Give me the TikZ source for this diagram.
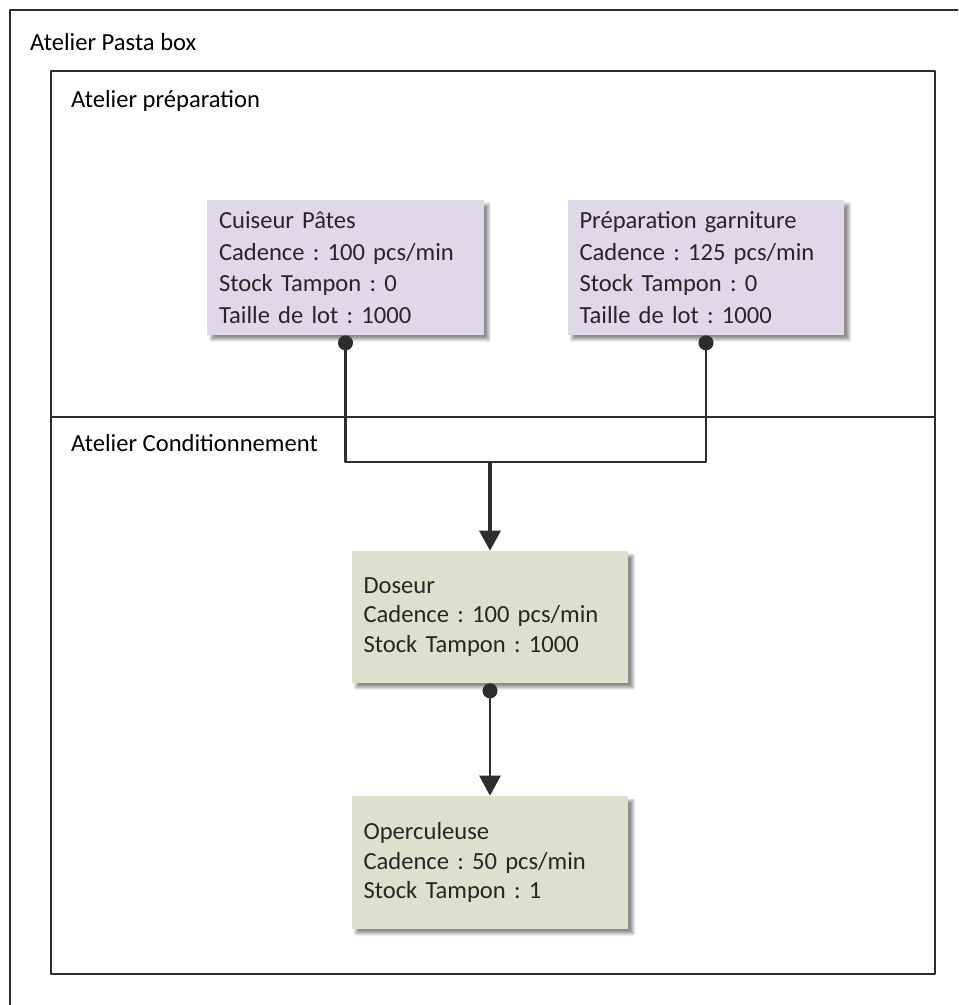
\documentclass[tikz,border=0pt]{standalone}
\usepackage{fontspec}
\setmainfont{Carlito}
\usetikzlibrary{arrows.meta,shadows.blur,positioning}
\definecolor{lavande}{RGB}{223,216,232}
\definecolor{sauge}{RGB}{221,224,205}
\definecolor{trait}{RGB}{45,45,45}
\frenchspacing

\begin{document}
\begin{tikzpicture}[x=0.02cm,y=-0.02cm, font=\fontsize{14}{18}\selectfont, line join=round, >={Triangle[width=0.42cm,length=0.4cm]},
	frame/.style={draw=trait, line width=1pt},
	poste/.style={text width=5.06cm, inner xsep=0.24cm, inner ysep=0pt, align=left, minimum width=5.54cm,
		text=black!85, blur shadow={shadow xshift=0.09cm, shadow yshift=-0.09cm, shadow blur steps=6, shadow blur radius=0.06cm, shadow opacity=45}},
	flux/.style={draw=trait, line width=1.4pt},
	pastille/.style={{Circle[length=0.3cm]}-}]
	\useasboundingbox (0,0) rectangle (958,1005);
	\begin{scope}
		\clip (0,0) rectangle (958,1005);
		\draw[frame] (10,1010)--(10,10)--(970,10);
		\draw[frame] (51,71) rectangle (935,417);
		\draw[frame] (51,417) rectangle (935,974);
	\end{scope}
	\node[anchor=west] (pasta) at (24,42) {Atelier Pasta box};
	\node[anchor=west] (prep) at (65,101) {Atelier préparation};
	\node[anchor=west] (cond) at (65,443) {Atelier Conditionnement};
	\node[poste, fill=lavande, minimum height=2.7cm] (cuiseur) at (345.5,267.5)
		{Cuiseur Pâtes\\Cadence : 100 pcs/min\\Stock Tampon : 0\\Taille de lot : 1000};
	\node[poste, fill=lavande, minimum height=2.7cm] (garniture) at (706,267.5)
		{Préparation garniture\\Cadence : 125 pcs/min\\Stock Tampon : 0\\Taille de lot : 1000};
	\node[poste, fill=sauge, minimum height=2.64cm, font=\fontsize{14}{17}\selectfont] (doseur) at (490,617)
		{Doseur\\Cadence : 100 pcs/min\\Stock Tampon : 1000};
	\node[poste, fill=sauge, minimum height=2.66cm, font=\fontsize{14}{17}\selectfont] (operc) at (490,862.5)
		{Operculeuse\\Cadence : 50 pcs/min\\Stock Tampon : 1};
	\coordinate (jonction) at (490,462);
	\draw[flux, pastille] (cuiseur.south) |- (jonction);
	\draw[flux, pastille] (garniture.south) |- (jonction);
	\draw[flux, line width=2pt, ->] (jonction) -- (doseur.north);
	\draw[flux, {Circle[length=0.3cm]}->] (doseur.south) -- (operc.north);
\end{tikzpicture}
\end{document}
